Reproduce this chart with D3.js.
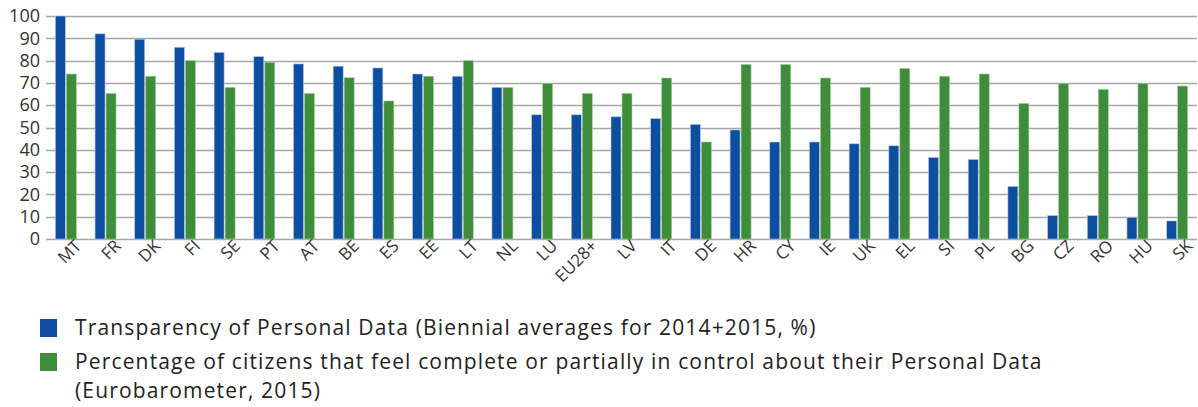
<!DOCTYPE html>
<html>
<head>
<meta charset="utf-8">
<script src="https://cdn.jsdelivr.net/npm/d3@7"></script>
<style>
  body { margin: 0; background: #fff; }
  svg, svg text { display: block; font-family: "Open Sans", "Noto Sans", sans-serif; }
</style>
</head>
<body>
<div id="chart"></div>
<script>
// country codes, sorted by transparency score
const countries = ['MT', 'FR', 'DK', 'FI', 'SE', 'PT', 'AT', 'BE', 'ES', 'EE', 'LT', 'NL', 'LU', 'EU28+', 'LV',
    'IT', 'DE', 'HR', 'CY', 'IE', 'UK', 'EL', 'SI', 'PL', 'BG', 'CZ', 'RO', 'HU', 'SK'];
const transparency = [100, 92, 89.6, 86, 83.7, 81.8, 78.5, 77.5, 76.7, 74, 73, 68, 55.7, 55.7, 54.8,
    54, 51.4, 48.9, 43.5, 43.5, 42.7, 41.8, 36.6, 35.7, 23.6, 10.5, 10.5, 9.7, 8.1];
const control = [74, 65.3, 73, 80, 68, 79.2, 65.3, 72.3, 61.9, 73, 80, 68, 69.8, 65.3, 65.3,
    72.2, 43.5, 78.3, 78.3, 72.2, 68, 76.5, 73, 74, 60.8, 69.8, 67.1, 69.8, 68.6];
const yTicks = [0, 10, 20, 30, 40, 50, 60, 70, 80, 90, 100];
const legendLabels = [
    ['Transparency of Personal Data (Biennial averages for 2014+2015, %)'],
    ['Percentage of citizens that feel complete or partially in control about their Personal Data', '(Eurobarometer, 2015)']
];

const width = 1198, height = 407;
const margin = { top: 16, right: 1, left: 46 };
const plotBottom = 239;
const colors = ['#0d4ea1', '#3f8c3a'];

const svg = d3.select('#chart')
    .append('svg')
    .attr('width', width)
    .attr('height', height);

const x = d3.scaleBand()
    .domain(countries)
    .range([margin.left, width - margin.right]);

const y = d3.scaleLinear()
    .domain([0, 100])
    .range([plotBottom, margin.top]);

// gridlines
svg.append('g')
    .selectAll('line')
    .data(yTicks)
    .enter()
    .append('line')
    .attr('x1', margin.left)
    .attr('x2', width - margin.right)
    .attr('y1', d => Math.round(y(d)) + 0.5)
    .attr('y2', d => Math.round(y(d)) + 0.5)
    .attr('stroke', '#a6a6a6')
    .attr('stroke-width', 1.5);

// y axis labels
const yAxis = svg.append('g')
    .attr('transform', `translate(${margin.left},0)`)
    .call(d3.axisLeft(y).tickValues(yTicks).tickSize(0).tickPadding(6));
yAxis.attr('font-family', null);
yAxis.select('.domain').remove();
yAxis.selectAll('text')
    .attr('fill', '#333')
    .style('font-size', '18px');

// bars
const barW = 10;
const series = [transparency, control];
series.forEach((values, s) => {
    svg.append('g')
        .selectAll('rect')
        .data(values)
        .enter()
        .append('rect')
        .attr('x', (d, i) => x(countries[i]) + x.bandwidth() / 2 - barW - 0.5 + s * (barW + 1))
        .attr('y', d => y(d))
        .attr('width', barW)
        .attr('height', d => y(0) - y(d))
        .attr('fill', colors[s])
        .attr('stroke', s === 0 ? '#b9c9e6' : '#a8cfa4')
        .attr('stroke-width', 0.6);
});

// x axis labels
const xAxis = svg.append('g')
    .attr('transform', `translate(0,${plotBottom})`)
    .call(d3.axisBottom(x).tickSize(0).tickPadding(8));
xAxis.attr('font-family', null);
xAxis.select('.domain').remove();
xAxis.selectAll('text')
    .attr('fill', '#333')
    .style('font-size', '17px')
    .attr('text-anchor', 'end')
    .attr('dx', '0.35em')
    .attr('dy', '0.55em')
    .attr('transform', 'rotate(-45)');

// legend
const legend = svg.append('g');
const rowY = [328, 362];
legendLabels.forEach((lines, i) => {
    legend.append('rect')
        .attr('x', 40)
        .attr('y', rowY[i] - 9)
        .attr('width', 17)
        .attr('height', 18)
        .attr('fill', colors[i]);
    lines.forEach((t, j) => {
        legend.append('text')
            .attr('x', 75)
            .attr('y', rowY[i] + j * 29)
            .attr('dy', '0.35em')
            .attr('fill', '#222')
            .style('font-size', '21px')
            .style('letter-spacing', '1.15px')
            .text(t);
    });
});
</script>
</body>
</html>
